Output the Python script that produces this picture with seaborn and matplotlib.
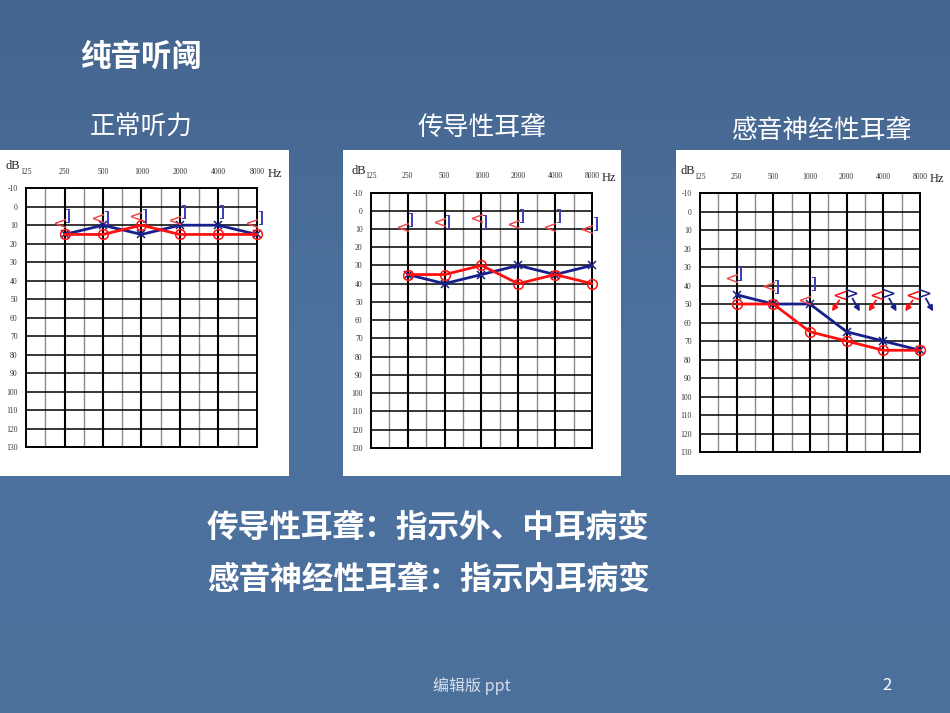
import numpy as np
import pandas as pd
import seaborn as sns
import matplotlib.pyplot as plt
from matplotlib.colors import LinearSegmentedColormap

# audiogram data (dB HL), frequencies 250..8000 Hz
freqs = [250, 500, 1000, 2000, 4000, 8000]
freq_labels = ["125", "250", "500", "1000", "2000", "4000", "8000"]
db_ticks = list(range(-10, 140, 10))
nan = np.nan

# normal hearing
normal_right_air = [15, 15, 10, 15, 15, 15]
normal_left_air = [15, 10, 15, 10, 10, 15]
normal_right_bone = [9, 6, 5, 7, nan, 9]
normal_left_bone = [5, 6, 5, 3, 3, 6]

# conductive hearing loss
conductive_right_air = [35, 35, 30, 40, 35, 40]
conductive_left_air = [35, 40, 35, 30, 35, 30]
conductive_right_bone = [9, 6, 4, 7, 9, 10]
conductive_left_bone = [5, 6, 6, 3, 3, 7]

# sensorineural hearing loss
sensor_right_air = [50, 50, 65, 70, 75, 75]
sensor_left_air = [45, 50, 50, 65, 70, 75]
sensor_right_bone = [36, 40, 48, nan, nan, nan]
sensor_left_bone = [34, 41, 39, nan, nan, nan]
sensor_noresp_right = [nan, nan, nan, 45, 45, 45]
sensor_noresp_left = [nan, nan, nan, 44, 44, 44]

RED = "#ff1010"
BLUE = "#17208a"

sns.set_style("white")
plt.rcParams["font.family"] = ["Noto Sans CJK SC", "DejaVu Sans"]

fig = plt.figure(figsize=(9.5, 7.13), dpi=100)

# slide background
bg = fig.add_axes([0, 0, 1, 1])
cmap = LinearSegmentedColormap.from_list("slide", ["#44658e", "#4d72a0", "#4c709c"])
bg.imshow(np.linspace(0, 1, 100).reshape(-1, 1), cmap=cmap, aspect="auto", extent=[0, 1, 0, 1])
bg.set_axis_off()


def draw_audiogram(panel, rect, right_air, left_air, right_bone, left_bone,
                   noresp_r=None, noresp_l=None):
    # white card behind the chart
    card = fig.add_axes(panel)
    card.set_facecolor("white")
    card.set_xticks([])
    card.set_yticks([])
    for s in card.spines.values():
        s.set_visible(False)

    ax = fig.add_axes(rect)
    ax.set_facecolor("white")
    oct_x = np.log2(np.array(freqs) / 125)

    for k in np.arange(0.5, 6, 0.5):
        octave = k % 1 == 0
        ax.axvline(k, color="black" if octave else "#8c8c8c", lw=1.5 if octave else 1.0, zorder=1)
    for d in db_ticks[1:-1]:
        ax.axhline(d, color="black", lw=1.1, zorder=1)

    df = pd.DataFrame({"oct": oct_x, "right": right_air, "left": left_air})
    sns.lineplot(data=df, x="oct", y="left", color=BLUE, lw=2, marker="x", markersize=6,
                 markeredgecolor=BLUE, markeredgewidth=1.1, clip_on=False, ax=ax, zorder=3)
    sns.lineplot(data=df, x="oct", y="right", color=RED, lw=2, marker="o", markersize=7,
                 markerfacecolor="none", markeredgecolor=RED, markeredgewidth=1.1,
                 clip_on=False, ax=ax, zorder=4)

    sns.scatterplot(x=oct_x - 0.13, y=right_bone, marker="$<$", color="#f04848",
                    s=65, linewidth=0, clip_on=False, ax=ax, zorder=5)
    sns.scatterplot(x=oct_x + 0.1, y=left_bone, marker="$]$", color="#4040b8",
                    s=90, linewidth=0, clip_on=False, ax=ax, zorder=5)

    if noresp_r is not None:
        sns.scatterplot(x=oct_x - 0.18, y=noresp_r, marker="$<$", color=RED,
                        s=70, linewidth=0, clip_on=False, ax=ax, zorder=5)
        sns.scatterplot(x=oct_x + 0.12, y=noresp_l, marker="$>$", color=BLUE,
                        s=70, linewidth=0, clip_on=False, ax=ax, zorder=5)
        for xo, yr, yl in zip(oct_x, noresp_r, noresp_l):
            if np.isnan(yr):
                continue
            ax.annotate("", xy=(xo - 0.4, yr + 9), xytext=(xo - 0.2, yr + 3),
                        arrowprops=dict(arrowstyle="-|>", color=RED, lw=1.3,
                                        mutation_scale=8, shrinkA=0, shrinkB=0),
                        annotation_clip=False)
            ax.annotate("", xy=(xo + 0.36, yl + 10), xytext=(xo + 0.16, yl + 3),
                        arrowprops=dict(arrowstyle="-|>", color=BLUE, lw=1.3,
                                        mutation_scale=8, shrinkA=0, shrinkB=0),
                        annotation_clip=False)

    ax.set_xlim(0, 6)
    ax.set_ylim(130, -10)
    ax.set_xlabel("")
    ax.set_ylabel("")
    ax.grid(False)
    ax.set_yticks(db_ticks)
    ax.set_yticklabels([str(d) for d in db_ticks], fontsize=5.5,
                       family="Liberation Serif", color="#333333")
    ax.xaxis.tick_top()
    ax.set_xticks(range(7))
    ax.set_xticklabels(freq_labels, fontsize=5.5, family="Liberation Serif", color="#333333")
    ax.tick_params(axis="y", length=0, pad=6)
    ax.tick_params(axis="x", length=0, pad=9)
    for s in ax.spines.values():
        s.set_color("black")
        s.set_linewidth(1.4)
    ax.text(-0.09, 1.085, "dB", transform=ax.transAxes, fontsize=9,
            family="Liberation Serif", color="#222222", ha="left", va="center")
    ax.text(1.045, 1.055, "Hz", transform=ax.transAxes, fontsize=9,
            family="Liberation Serif", color="#222222", ha="left", va="center")
    return ax


draw_audiogram((0.0, 0.332, 0.304, 0.457), (0.0274, 0.373, 0.243, 0.363),
               normal_right_air, normal_left_air, normal_right_bone, normal_left_bone)
draw_audiogram((0.361, 0.332, 0.293, 0.457), (0.3905, 0.372, 0.2326, 0.358),
               conductive_right_air, conductive_left_air, conductive_right_bone, conductive_left_bone)
draw_audiogram((0.7116, 0.334, 0.2884, 0.455), (0.7368, 0.366, 0.2316, 0.3633),
               sensor_right_air, sensor_left_air, sensor_right_bone, sensor_left_bone,
               sensor_noresp_right, sensor_noresp_left)

# slide texts
fig.text(80 / 950, 1 - 57 / 713, "纯音听阈", fontsize=22, fontweight="bold", color="white",
         ha="left", va="center")
fig.text(90 / 950, 1 - 128 / 713, "正常听力", fontsize=18.5, color="white", ha="left", va="center")
fig.text(418 / 950, 1 - 128 / 713, "传导性耳聋", fontsize=18.5, color="white", ha="left", va="center")
fig.text(732 / 950, 1 - 131 / 713, "感音神经性耳聋", fontsize=18.5, color="white", ha="left", va="center")
fig.text(207 / 950, 1 - 528 / 713, "传导性耳聋：指示外、中耳病变", fontsize=22.8, fontweight="bold",
         color="white", ha="left", va="center")
fig.text(207 / 950, 1 - 580 / 713, "感音神经性耳聋：指示内耳病变", fontsize=22.8, fontweight="bold",
         color="white", ha="left", va="center")
fig.text(433 / 950, 1 - 686 / 713, "编辑版 ppt", fontsize=11.5, color="#d6deea", ha="left", va="center")
fig.text(887 / 950, 1 - 686 / 713, "2", fontsize=12, color="white", ha="center", va="center")

plt.savefig("out.png", dpi=100)
